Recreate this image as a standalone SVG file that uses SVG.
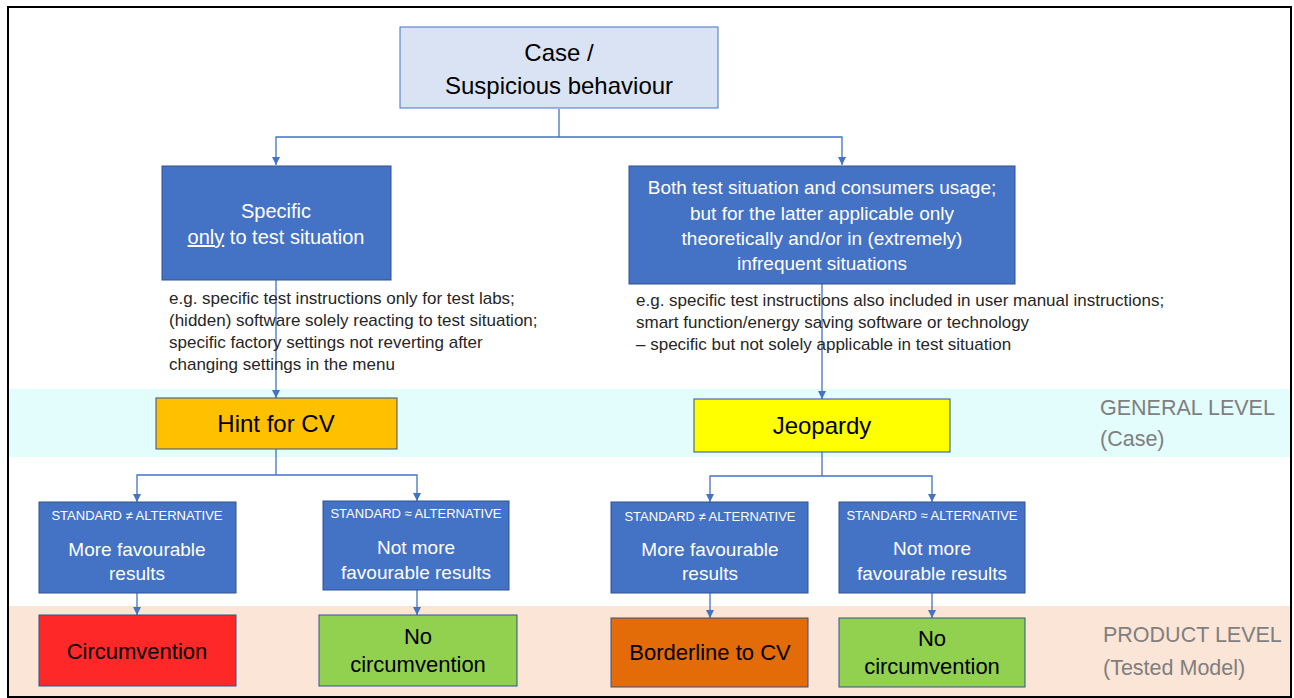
<svg xmlns="http://www.w3.org/2000/svg" width="1294" height="698" viewBox="0 0 1294 698">
<defs>
<marker id="ah" viewBox="0 0 10 10" refX="10" refY="5" markerWidth="8" markerHeight="8" markerUnits="userSpaceOnUse" orient="auto">
<path d="M0,0 L10,5 L0,10 z" fill="#4472C4"/>
</marker>
<style>
text{font-family:"Liberation Sans",Arial,sans-serif}
.blue{fill:#4472C4;stroke:#2F528F;stroke-width:1}
.wt{fill:#FFFFFF;text-anchor:middle}
.bt{fill:#000000;text-anchor:middle}
.note{fill:#262626;font-size:17px}
.lvl{fill:#7F7F7F;font-size:21.5px}
.conn{fill:none;stroke:#4472C4;stroke-width:1.3;marker-end:url(#ah)}
.line{fill:none;stroke:#4472C4;stroke-width:1.3}
</style>
</defs>
<rect width="1294" height="698" fill="#FFFFFF"/>
<rect x="8" y="389" width="1283" height="68" fill="#E3FCFC"/>
<rect x="8" y="606" width="1283" height="91" fill="#FBE5D6"/>
<rect x="8" y="7" width="1283" height="690" fill="none" stroke="#000000" stroke-width="2"/>

<g id="connectors">
<path class="line" d="M559,109 V137"/>
<path class="conn" d="M559,137 H276 V165"/>
<path class="conn" d="M559,137 H842 V165"/>
<path class="conn" d="M276,280 V398"/>
<path class="conn" d="M822,284 V399"/>
<path class="line" d="M276,449 V475"/>
<path class="conn" d="M276,475 H137 V502"/>
<path class="conn" d="M276,475 H417 V501"/>
<path class="line" d="M822,452 V476"/>
<path class="conn" d="M822,476 H710 V502"/>
<path class="conn" d="M822,476 H932 V502"/>
<path class="conn" d="M137,593 V615"/>
<path class="conn" d="M417,590 V615"/>
<path class="conn" d="M710,593 V618"/>
<path class="conn" d="M932,593 V618"/>
</g>

<g id="case">
<rect x="400" y="27" width="318" height="81" fill="#DAE3F3" stroke="#4472C4" stroke-width="1"/>
<text class="bt" x="559" y="61" font-size="24">Case /</text>
<text class="bt" x="559" y="94" font-size="24">Suspicious behaviour</text>
</g>

<g id="specific">
<rect class="blue" x="162" y="166" width="229" height="114"/>
<text class="wt" x="276" y="218" font-size="20">Specific</text>
<text class="wt" x="276" y="244" font-size="20"><tspan style="text-decoration:underline">only</tspan> to test situation</text>
</g>

<g id="both">
<rect class="blue" x="629" y="166" width="386" height="118"/>
<text class="wt" x="822" y="194" font-size="19">Both test situation and consumers usage;</text>
<text class="wt" x="822" y="220" font-size="19">but for the latter applicable only</text>
<text class="wt" x="822" y="245" font-size="19">theoretically and/or in (extremely)</text>
<text class="wt" x="822" y="270" font-size="19">infrequent situations</text>
</g>

<g id="note-left">
<text class="note" x="169" y="304">e.g. specific test instructions only for test labs;</text>
<text class="note" x="169" y="326">(hidden) software solely reacting to test situation;</text>
<text class="note" x="169" y="348">specific factory settings not reverting after</text>
<text class="note" x="169" y="370">changing settings in the menu</text>
</g>

<g id="note-right">
<text class="note" x="636" y="306">e.g. specific test instructions also included in user manual instructions;</text>
<text class="note" x="636" y="328">smart function/energy saving software or technology</text>
<text class="note" x="636" y="350">– specific but not solely applicable in test situation</text>
</g>

<g id="hint">
<rect x="156" y="398" width="241" height="51" fill="#FFC000" stroke="#2F528F" stroke-width="1"/>
<text class="bt" x="276" y="432" font-size="24">Hint for CV</text>
</g>

<g id="jeopardy">
<rect x="694" y="399" width="256" height="53" fill="#FFFF00" stroke="#2F528F" stroke-width="1"/>
<text class="bt" x="822" y="434" font-size="24">Jeopardy</text>
</g>

<g id="general-level">
<text class="lvl" x="1100" y="415">GENERAL LEVEL</text>
<text class="lvl" x="1100" y="446">(Case)</text>
</g>

<g id="l-more">
<rect class="blue" x="39" y="502" width="197" height="91"/>
<text class="wt" x="137" y="520" font-size="13">STANDARD ≠ ALTERNATIVE</text>
<text class="wt" x="137" y="556" font-size="19">More favourable</text>
<text class="wt" x="137" y="580" font-size="19">results</text>
</g>

<g id="l-notmore">
<rect class="blue" x="323" y="501" width="186" height="89"/>
<text class="wt" x="416" y="518" font-size="13">STANDARD ≈ ALTERNATIVE</text>
<text class="wt" x="416" y="554" font-size="19">Not more</text>
<text class="wt" x="416" y="579" font-size="19">favourable results</text>
</g>

<g id="r-more">
<rect class="blue" x="611" y="502" width="197" height="91"/>
<text class="wt" x="710" y="521" font-size="13">STANDARD ≠ ALTERNATIVE</text>
<text class="wt" x="710" y="556" font-size="19">More favourable</text>
<text class="wt" x="710" y="580" font-size="19">results</text>
</g>

<g id="r-notmore">
<rect class="blue" x="839" y="502" width="186" height="91"/>
<text class="wt" x="932" y="520" font-size="13">STANDARD ≈ ALTERNATIVE</text>
<text class="wt" x="932" y="555" font-size="19">Not more</text>
<text class="wt" x="932" y="580" font-size="19">favourable results</text>
</g>

<g id="circumvention">
<rect x="39" y="615" width="197" height="71" fill="#FF2828" stroke="#2F528F" stroke-width="1"/>
<text class="bt" x="137" y="659" font-size="22">Circumvention</text>
</g>

<g id="no-circ-left">
<rect x="319" y="615" width="198" height="71" fill="#92D050" stroke="#2F528F" stroke-width="1"/>
<text class="bt" x="418" y="644" font-size="22">No</text>
<text class="bt" x="418" y="672" font-size="22">circumvention</text>
</g>

<g id="borderline">
<rect x="611" y="618" width="197" height="69" fill="#E36C09" stroke="#2F528F" stroke-width="1"/>
<text class="bt" x="710" y="660" font-size="22">Borderline to CV</text>
</g>

<g id="no-circ-right">
<rect x="839" y="618" width="186" height="69" fill="#92D050" stroke="#2F528F" stroke-width="1"/>
<text class="bt" x="932" y="646" font-size="22">No</text>
<text class="bt" x="932" y="674" font-size="22">circumvention</text>
</g>

<g id="product-level">
<text class="lvl" x="1103" y="642">PRODUCT LEVEL</text>
<text class="lvl" x="1103" y="675">(Tested Model)</text>
</g>
</svg>
